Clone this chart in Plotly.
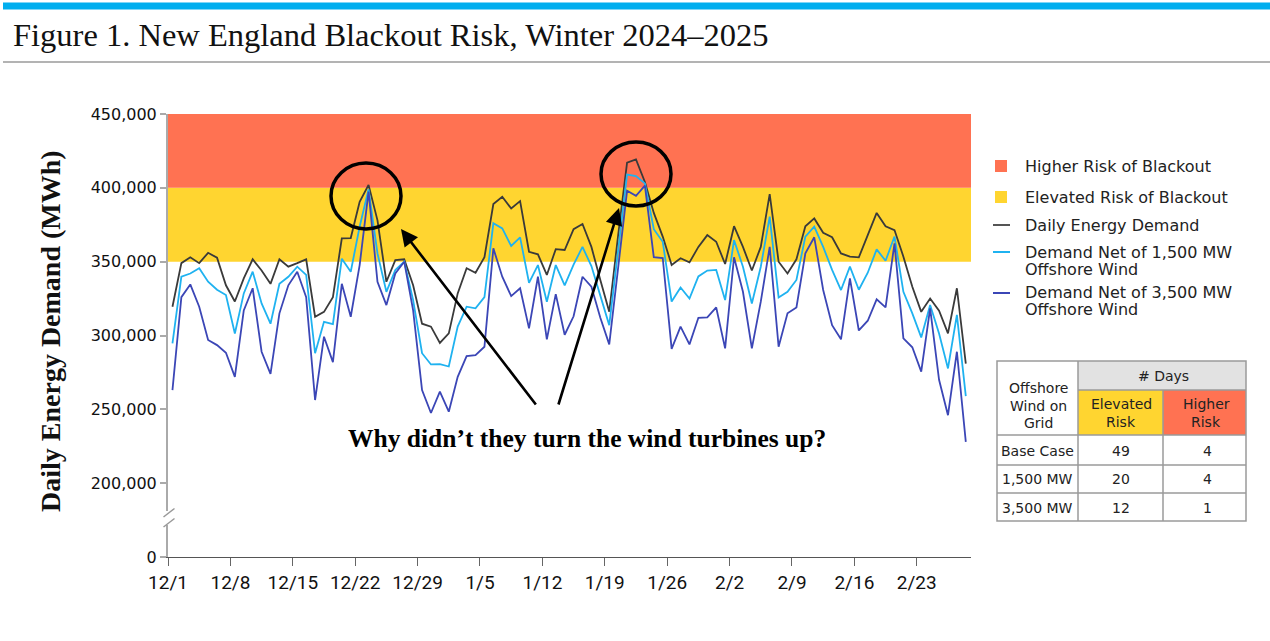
import plotly.graph_objects as go
import pandas as pd

# ---------------- data ----------------
start_date = "2024-12-01 12:00"
n_days = 90

demand = [319500, 349000, 353000, 349000, 356000, 352700, 334000, 323000, 338700, 351600,
          344000, 335000, 351600, 346600, 349000, 351600, 312700, 316000, 326000, 365800,
          366000, 390600, 402000, 378000, 336400, 351000, 351600, 334000, 308000, 306000,
          295000, 301400, 328500, 345500, 342500, 353000, 389000, 394000, 386000, 391000,
          356700, 355000, 341000, 358500, 357900, 372000, 375500, 360000, 337600, 316100,
          368000, 417000, 419300, 404000, 383000, 367000, 347800, 352300, 349500, 360000,
          368000, 363500, 348400, 374000, 360000, 344000, 360000, 395800, 350000, 342000,
          351600, 374000, 379300, 369600, 366500, 355600, 353400, 352900, 368000, 383000,
          374000, 371400, 353400, 333000, 316000, 325000, 316800, 301400, 332000, 281000]

net_1500 = [294600, 339800, 342000, 345500, 336400, 331000, 327400, 301400, 328500, 343200,
            321700, 308000, 335000, 339800, 346600, 341000, 288000, 309300, 307700, 352000,
            343200, 373700, 399000, 355600, 329600, 344400, 350000, 324000, 288000, 280400,
            280600, 279000, 306000, 319500, 318400, 326000, 376000, 372500, 360600, 366500,
            335700, 347700, 322900, 347700, 334000, 348000, 360000, 347000, 327000, 307000,
            358000, 409000, 408000, 403000, 372000, 363500, 323000, 332500, 325000, 340000,
            344000, 344400, 324000, 364600, 346600, 321700, 346600, 380500, 325800, 329600,
            337600, 367000, 373700, 360000, 344400, 330800, 346600, 331000, 342500, 358300,
            350600, 367000, 329600, 315000, 298700, 320600, 301400, 277700, 314000, 259000]

net_3500 = [263000, 326000, 334600, 319500, 297000, 293500, 288300, 272000, 317000, 332000,
            289000, 274000, 315000, 334000, 343200, 326000, 256300, 299200, 282000, 335000,
            312700, 347700, 397400, 336400, 320600, 342000, 350000, 317000, 263000, 247500,
            262000, 248400, 272000, 286000, 286700, 292400, 359000, 339800, 326700, 332000,
            304800, 339800, 297400, 328000, 300500, 313000, 339800, 333000, 312000, 294000,
            346000, 398000, 394600, 401500, 353000, 352500, 291000, 306000, 294000, 312000,
            312300, 319000, 291300, 353000, 329600, 291300, 322900, 360000, 292400, 315000,
            319000, 355600, 366500, 330800, 307000, 297400, 338700, 303400, 310000, 324500,
            319000, 362400, 298000, 292000, 275500, 318400, 270000, 246000, 289000, 228000]

series_names = ["Daily Energy Demand", "Demand Net of 1,500 MW", "Demand Net of 3,500 MW"]

risk_bands = [350000, 400000, 450000]   # elevated from..to, higher from..to
band_names = ["Higher Risk of Blackout", "Elevated Risk of Blackout"]

x_tick_dates = ["2024-12-01", "2024-12-08", "2024-12-15", "2024-12-22", "2024-12-29",
                "2025-01-05", "2025-01-12", "2025-01-19", "2025-01-26", "2025-02-02",
                "2025-02-09", "2025-02-16", "2025-02-23"]
x_tick_labels = ["12/1", "12/8", "12/15", "12/22", "12/29", "1/5", "1/12", "1/19",
                 "1/26", "2/2", "2/9", "2/16", "2/23"]

y_tick_vals = [150000, 200000, 250000, 300000, 350000, 400000, 450000]
y_tick_labels = ["0", "200,000", "250,000", "300,000", "350,000", "400,000", "450,000"]

table_rows = ["Base Case", "1,500 MW", "3,500 MW"]
table_elevated = [49, 20, 12]
table_higher = [4, 4, 1]

title_text = "Figure 1. New England Blackout Risk, Winter 2024\u20132025"
callout_text = "Why didn\u2019t they turn the wind turbines up?"

# ---------------- styling ----------------
RED = "#FF7252"
YEL = "#FFD530"
C_DEM = "#3a3a3a"
C_1500 = "#1FB2F0"
C_3500 = "#3B46B6"
SANS = "DejaVu Sans, Noto Sans, sans-serif"
SERIF = "Liberation Serif, Times New Roman, serif"
NARROW = "Liberation Sans Narrow, Arial Narrow, Roboto, sans-serif"

W, H = 1270, 641
L, T, R, B = 168, 114, 971, 557
PW, PH = R - L, B - T


def px(x):
    return (x - L) / PW


def py(y):
    return (B - y) / PH


dates = pd.date_range(start_date, periods=n_days, freq="D")

fig = go.Figure()
for vals, name, col in zip([demand, net_1500, net_3500], series_names, [C_DEM, C_1500, C_3500]):
    fig.add_trace(go.Scatter(x=dates, y=vals, mode="lines", name=name,
                             line=dict(color=col, width=1.8), showlegend=False))

shapes = []
annotations = []

# risk bands
shapes.append(dict(type="rect", xref="paper", yref="y", x0=0, x1=1,
                   y0=risk_bands[0], y1=risk_bands[1], fillcolor=YEL, line_width=0, layer="below"))
shapes.append(dict(type="rect", xref="paper", yref="y", x0=0, x1=1,
                   y0=risk_bands[1], y1=risk_bands[2], fillcolor=RED, line_width=0, layer="below"))

# top decoration
shapes.append(dict(type="rect", xref="paper", yref="paper", x0=px(3), x1=px(1272),
                   y0=py(9.5), y1=py(2.5), fillcolor="#00AEEF", line_width=0))
shapes.append(dict(type="line", xref="paper", yref="paper", x0=px(3), x1=px(1272),
                   y0=py(62), y1=py(62), line=dict(color="#B3B3B3", width=2)))

annotations.append(dict(text=title_text, xref="paper", yref="paper", x=px(11), y=py(35),
                        xanchor="left", yanchor="middle", showarrow=False,
                        font=dict(family=SERIF, size=32.5, color="#111")))

# y axis title
annotations.append(dict(text="<b>Daily Energy Demand (MWh)</b>", xref="paper", yref="paper",
                        x=px(50), y=py(331), textangle=-90, showarrow=False,
                        xanchor="center", yanchor="middle",
                        font=dict(family=SERIF, size=28, color="#111")))

# axis break
shapes.append(dict(type="rect", xref="paper", yref="paper", x0=px(165), x1=px(172),
                   y0=py(525), y1=py(511), fillcolor="white", line_width=0, layer="above"))
for y_a, y_b in [(517, 508.5), (527, 518.5)]:
    shapes.append(dict(type="line", xref="paper", yref="paper", x0=px(163.5), x1=px(174.5),
                       y0=py(y_a), y1=py(y_b), line=dict(color="#999", width=1.5), layer="above"))

# callout circles and arrows
for (x0, x1, y0, y1) in [(331, 401, 163, 229), (601, 671, 142, 206)]:
    shapes.append(dict(type="circle", xref="paper", yref="paper", x0=px(x0), x1=px(x1),
                       y0=py(y1), y1=py(y0), line=dict(color="black", width=3.5), layer="above"))
for (tx, ty, sx, sy) in [(401, 229, 537, 406), (619, 208, 558, 406)]:
    annotations.append(dict(text="", xref="paper", yref="paper", x=px(tx), y=py(ty),
                            ax=sx - tx, ay=sy - ty, showarrow=True, arrowhead=2,
                            arrowsize=1.3, arrowwidth=2.6, arrowcolor="black"))
annotations.append(dict(text="<b>" + callout_text + "</b>", xref="paper", yref="paper",
                        x=px(587), y=py(438), showarrow=False, xanchor="center", yanchor="middle",
                        font=dict(family=SERIF, size=25.5, color="black")))

# legend
leg_font = dict(family=SANS, size=16, color="#222")
shapes.append(dict(type="rect", xref="paper", yref="paper", x0=px(995), x1=px(1007),
                   y0=py(172), y1=py(160), fillcolor=RED, line_width=0))
shapes.append(dict(type="rect", xref="paper", yref="paper", x0=px(995), x1=px(1007),
                   y0=py(203), y1=py(191), fillcolor=YEL, line_width=0))
for yy, col in [(225, "#555"), (252, C_1500), (293, C_3500)]:
    shapes.append(dict(type="line", xref="paper", yref="paper", x0=px(993), x1=px(1010),
                       y0=py(yy), y1=py(yy), line=dict(color=col, width=2)))
legend_lines = [(band_names[0], 166), (band_names[1], 197), (series_names[0], 225),
                (series_names[1], 252), ("Offshore Wind", 269),
                (series_names[2], 292.5), ("Offshore Wind", 309.5)]
for txt, yy in legend_lines:
    annotations.append(dict(text=txt, xref="paper", yref="paper", x=px(1023), y=py(yy),
                            xanchor="left", yanchor="middle", showarrow=False, font=leg_font))

# table
tb_font = dict(family=SANS, size=14, color="#222")
cx = [997, 1078, 1163, 1246]
ry = [361, 390, 435, 465, 493, 521]
shapes.append(dict(type="rect", xref="paper", yref="paper", x0=px(cx[1]), x1=px(cx[3]),
                   y0=py(ry[1]), y1=py(ry[0]), fillcolor="#E2E2E2", line_width=0))
shapes.append(dict(type="rect", xref="paper", yref="paper", x0=px(cx[1]), x1=px(cx[2]),
                   y0=py(ry[2]), y1=py(ry[1]), fillcolor=YEL, line_width=0))
shapes.append(dict(type="rect", xref="paper", yref="paper", x0=px(cx[2]), x1=px(cx[3]),
                   y0=py(ry[2]), y1=py(ry[1]), fillcolor=RED, line_width=0))
bc = dict(color="#9a9a9a", width=1.5)
shapes.append(dict(type="rect", xref="paper", yref="paper", x0=px(cx[0]), x1=px(cx[3]),
                   y0=py(ry[5]), y1=py(ry[0]), line=bc))
shapes.append(dict(type="line", xref="paper", yref="paper", x0=px(cx[1]), x1=px(cx[1]),
                   y0=py(ry[5]), y1=py(ry[0]), line=bc))
shapes.append(dict(type="line", xref="paper", yref="paper", x0=px(cx[2]), x1=px(cx[2]),
                   y0=py(ry[5]), y1=py(ry[1]), line=bc))
shapes.append(dict(type="line", xref="paper", yref="paper", x0=px(cx[1]), x1=px(cx[3]),
                   y0=py(ry[1]), y1=py(ry[1]), line=bc))
for r in ry[2:5]:
    shapes.append(dict(type="line", xref="paper", yref="paper", x0=px(cx[0]), x1=px(cx[3]),
                       y0=py(r), y1=py(r), line=bc))


def tcell(txt, x, y):
    annotations.append(dict(text=txt, xref="paper", yref="paper", x=px(x), y=py(y),
                            xanchor="center", yanchor="middle", showarrow=False, font=tb_font))


for txt, yy in [("Offshore", 388), ("Wind on", 406), ("Grid", 423)]:
    tcell(txt, 1038, yy)
tcell("# Days", 1163, 376)
for txt, yy in [("Elevated", 404), ("Risk", 422)]:
    tcell(txt, 1121, yy)
for txt, yy in [("Higher", 404), ("Risk", 422)]:
    tcell(txt, 1206, yy)
row_y = [451, 479, 508]
for name, e, h, yy in zip(table_rows, table_elevated, table_higher, row_y):
    tcell(name, 1037, yy)
    tcell(str(e), 1121, yy)
    tcell(str(h), 1207, yy)

fig.update_layout(
    width=W, height=H,
    margin=dict(l=L, r=W - R, t=T, b=H - B, pad=0),
    paper_bgcolor="white", plot_bgcolor="white",
    shapes=shapes, annotations=annotations,
    xaxis=dict(range=["2024-12-01 00:00", "2025-03-01 02:00"], tickvals=x_tick_dates,
               ticktext=x_tick_labels, showgrid=False, zeroline=False, showline=True,
               linecolor="#555", linewidth=1, ticks="outside", ticklen=8, tickcolor="#666",
               tickwidth=1, tickfont=dict(family=NARROW, size=19, color="#111")),
    yaxis=dict(range=[150000, 450000], tickvals=y_tick_vals, ticktext=y_tick_labels,
               showgrid=False, zeroline=False, showline=True, linecolor="#aaa", linewidth=2,
               ticks="outside", ticklen=6, tickcolor="#aaa", tickwidth=1.5,
               tickfont=dict(family=SANS, size=16, color="#111")),
)

fig.write_html("out.html", config={"displayModeBar": False},
               post_script="document.body.style.margin='0';document.body.style.overflow='hidden';")
